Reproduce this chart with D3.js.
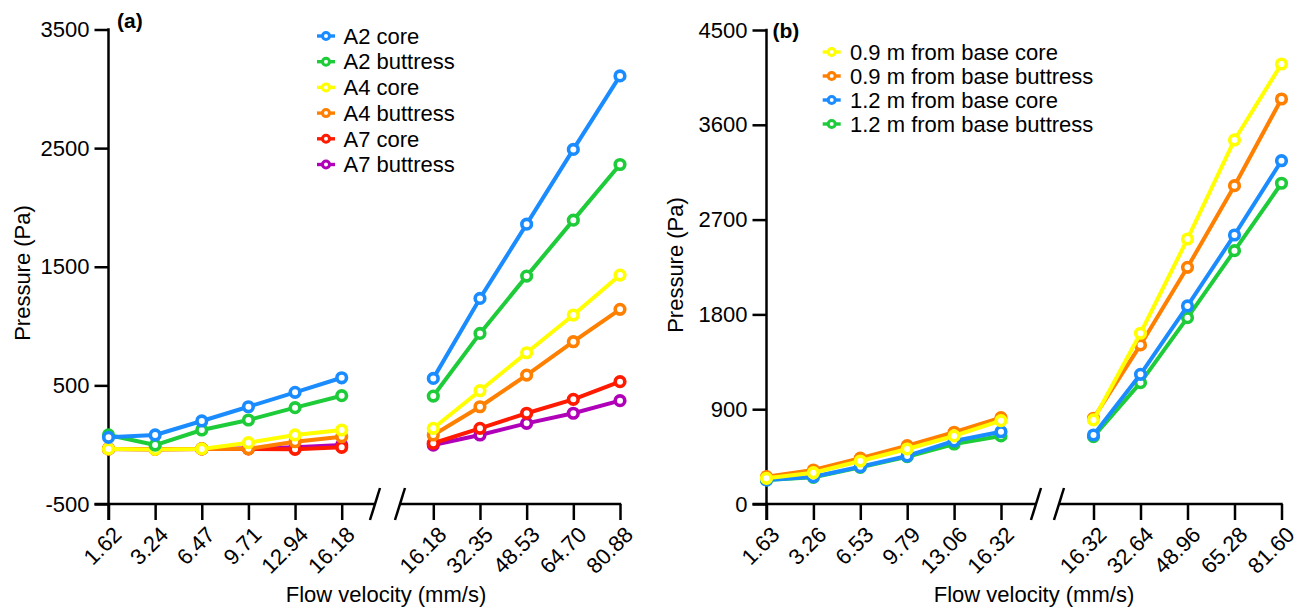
<!DOCTYPE html>
<html><head><meta charset="utf-8">
<script src="https://cdn.jsdelivr.net/npm/d3@7"></script>
<style>body{margin:0;background:#fff} text{font-family:"Liberation Sans",Arial,sans-serif}</style>
</head><body><svg id="c" width="1304" height="610"></svg>
<script>
// ---------- data ----------
const catsALeft  = ["1.62","3.24","6.47","9.71","12.94","16.18"];
const catsARight = ["16.18","32.35","48.53","64.70","80.88"];
const namesA = ["A2 core","A2 buttress","A4 core","A4 buttress","A7 core","A7 buttress"];
const a2CoreL = [62, 82, 200, 320, 441, 564];
const a2CoreR = [559, 1233, 1859, 2489, 3109];
const a2ButtL = [82, -3, 124, 208, 312, 413];
const a2ButtR = [410, 938, 1421, 1893, 2362];
const a4CoreL = [-36, -40, -36, 17, 82, 124];
const a4CoreR = [138, 455, 775, 1093, 1430];
const a4ButtL = [-36, -38, -36, -35, 25, 67];
const a4ButtR = [82, 320, 587, 868, 1141];
const a7CoreL = [-36, -38, -36, -35, -39, -22];
const a7CoreR = [12, 138, 265, 382, 531];
const a7ButtL = [-36, -38, -36, -33, -22, -2];
const a7ButtR = [-3, 82, 180, 265, 371];
const yTicksA = [-500, 500, 1500, 2500, 3500];

const catsBLeft  = ["1.63","3.26","6.53","9.79","13.06","16.32"];
const catsBRight = ["16.32","32.64","48.96","65.28","81.60"];
const namesB = ["0.9 m from base core","0.9 m from base buttress","1.2 m from base core","1.2 m from base buttress"];
const b09CoreL = [244, 297, 408, 522, 646, 791];
const b09CoreR = [798, 1621, 2516, 3456, 4177];
const b09ButtL = [259, 323, 435, 554, 681, 820];
const b09ButtR = [814, 1510, 2247, 3022, 3845];
const b12CoreL = [228, 259, 354, 456, 598, 686];
const b12CoreR = [655, 1231, 1880, 2554, 3259];
const b12ButtL = [228, 253, 348, 449, 570, 646];
const b12ButtR = [639, 1152, 1769, 2405, 3045];
const yTicksB = [0, 900, 1800, 2700, 3600, 4500];

const cBlue = "#1a8cff", cGreen = "#1ecc3a", cYellow = "#ffff00", cOrange = "#ff7f00", cRed = "#ff1a00", cPurple = "#b000b8";

const svg = d3.select("#c");

function drawPanel(cfg) {
  const g = svg.append("g");
  const y = d3.scaleLinear().domain(cfg.yDomain).range([504, cfg.yTop]);
  const xl = d3.scalePoint().domain(cfg.catsL).range(cfg.xL);
  const xr = d3.scalePoint().domain(cfg.catsR).range(cfg.xR);
  const x0 = cfg.xL[0];

  // y axis
  const ya = g.append("g").attr("transform", `translate(${x0},0)`)
    .call(d3.axisLeft(y).tickValues(cfg.yTicks).tickSize(14).tickPadding(5).tickFormat(d => String(d)));
  ya.select(".domain").remove();
  ya.selectAll("line").attr("stroke", "#000").attr("stroke-width", 2.5);
  ya.selectAll("text").attr("font-size", 22).attr("fill", "#000").attr("font-family", '"Liberation Sans",Arial,sans-serif');
  g.append("line").attr("x1", x0).attr("x2", x0).attr("y1", y(cfg.yDomain[1]) - 1.2).attr("y2", 520)
    .attr("stroke", "#000").attr("stroke-width", 2.5);

  // x axes
  function xAxis(sc, lineFrom, lineTo) {
    const xa = g.append("g").attr("transform", "translate(0,504)")
      .call(d3.axisBottom(sc).tickSize(16).tickSizeOuter(0));
    xa.select(".domain").remove();
    xa.selectAll("line").attr("stroke", "#000").attr("stroke-width", 2.5);
    xa.selectAll("text").attr("font-size", 22).attr("fill", "#000")
      .attr("font-family", '"Liberation Sans",Arial,sans-serif')
      .attr("text-anchor", "end").attr("y", 0).attr("x", 0).attr("dy", 0)
      .attr("transform", "translate(14,32) rotate(-45)");
    g.append("line").attr("x1", lineFrom).attr("x2", lineTo).attr("y1", 504).attr("y2", 504)
      .attr("stroke", "#000").attr("stroke-width", 2.5);
  }
  xAxis(xl, x0 - 14, cfg.brk[0]);
  xAxis(xr, cfg.brk[1], cfg.xR[1] + 1.2);
  cfg.brk.forEach(b => {
    g.append("line").attr("x1", b - 5).attr("y1", 520).attr("x2", b + 5).attr("y2", 488)
      .attr("stroke", "#000").attr("stroke-width", 2.5);
  });

  // series (drawn in reverse so first series is on top)
  const line = (sc) => d3.line().x(d => sc(d[0])).y(d => y(d[1]));
  cfg.series.slice().reverse().forEach(s => {
    [[xl, cfg.catsL, s.L], [xr, cfg.catsR, s.R]].forEach(([sc, cats, vals]) => {
      const pts = cats.map((c, i) => [c, vals[i]]);
      g.append("path").datum(pts).attr("d", line(sc)).attr("fill", "none")
        .attr("stroke", s.color).attr("stroke-width", 4).attr("stroke-linejoin", "round");
      g.selectAll(null).data(pts).enter().append("circle")
        .attr("cx", d => sc(d[0])).attr("cy", d => y(d[1])).attr("r", 4.8)
        .attr("fill", "#fff").attr("stroke", s.color).attr("stroke-width", 3.6);
    });
  });

  // legend
  cfg.series.forEach((s, i) => {
    const ly = cfg.leg.y + i * cfg.leg.dy;
    g.append("line").attr("x1", cfg.leg.x - 9).attr("x2", cfg.leg.x + 9).attr("y1", ly).attr("y2", ly)
      .attr("stroke", s.color).attr("stroke-width", 3.4);
    g.append("circle").attr("cx", cfg.leg.x).attr("cy", ly).attr("r", 3.5)
      .attr("fill", "#fff").attr("stroke", s.color).attr("stroke-width", 3);
    g.append("text").attr("x", cfg.leg.tx).attr("y", ly).attr("dy", "0.35em")
      .attr("font-size", 22).attr("fill", "#000").text(s.name);
  });

  // panel label
  g.append("text").attr("x", cfg.lab.x).attr("y", cfg.lab.y).attr("font-size", 21)
    .attr("font-weight", "bold").text(cfg.lab.t);

  // axis titles
  g.append("text").attr("transform", `translate(${cfg.yt.x},${cfg.yt.y}) rotate(-90)`)
    .attr("text-anchor", "middle").attr("font-size", 22).text("Pressure (Pa)");
  g.append("text").attr("x", cfg.xt.x).attr("y", 602).attr("text-anchor", "middle")
    .attr("font-size", 22).text("Flow velocity (mm/s)");
}

drawPanel({
  yDomain: [-500, 3500], yTop: 29.5, yTicks: yTicksA,
  catsL: catsALeft, catsR: catsARight,
  xL: [108.5, 341.7], xR: [433.3, 620], brk: [375, 400],
  series: [
    {name: namesA[0], color: cBlue,   L: a2CoreL, R: a2CoreR},
    {name: namesA[1], color: cGreen,  L: a2ButtL, R: a2ButtR},
    {name: namesA[2], color: cYellow, L: a4CoreL, R: a4CoreR},
    {name: namesA[3], color: cOrange, L: a4ButtL, R: a4ButtR},
    {name: namesA[4], color: cRed,    L: a7CoreL, R: a7CoreR},
    {name: namesA[5], color: cPurple, L: a7ButtL, R: a7ButtR}
  ],
  leg: {x: 326, tx: 343.5, y: 36, dy: 25.7},
  lab: {x: 117, y: 28, t: "(a)"},
  yt: {x: 30, y: 273},
  xt: {x: 386}
});

drawPanel({
  yDomain: [0, 4500], yTop: 30, yTicks: yTicksB,
  catsL: catsBLeft, catsR: catsBRight,
  xL: [766.5, 1001], xR: [1093.5, 1281.5], brk: [1036, 1059],
  series: [
    {name: namesB[0], color: cYellow, L: b09CoreL, R: b09CoreR},
    {name: namesB[1], color: cOrange, L: b09ButtL, R: b09ButtR},
    {name: namesB[2], color: cBlue,   L: b12CoreL, R: b12CoreR},
    {name: namesB[3], color: cGreen,  L: b12ButtL, R: b12ButtR}
  ],
  leg: {x: 831.7, tx: 850, y: 52, dy: 24},
  lab: {x: 772.5, y: 38, t: "(b)"},
  yt: {x: 683, y: 265},
  xt: {x: 1034}
});
</script></body></html>
